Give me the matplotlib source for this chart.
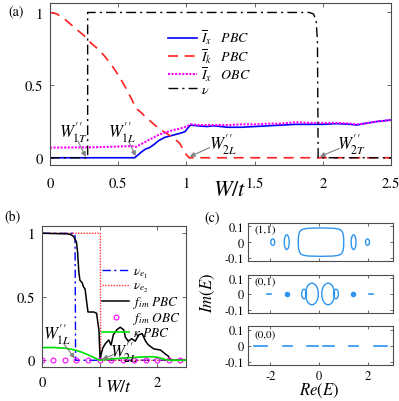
import numpy as np
import matplotlib
matplotlib.use("Agg")
import matplotlib.pyplot as plt
from matplotlib.patches import Ellipse, Polygon

plt.rcParams['font.family'] = ['STIXGeneral', 'DejaVu Serif']
plt.rcParams['mathtext.fontset'] = 'stix'

# ---------------- data: panel (a) ----------------
ik_w = [0, 0.05, 0.1, 0.15, 0.2, 0.25, 0.3, 0.35, 0.4, 0.45, 0.5, 0.55, 0.6, 0.63,
        0.67, 0.7, 0.75, 0.8, 0.85, 0.9, 0.95, 0.98, 1.0, 1.02, 2.5]
ik_pbc = [1.0, 0.99, 0.96, 0.92, 0.88, 0.84, 0.79, 0.75, 0.70, 0.64, 0.57, 0.49, 0.40, 0.34,
          0.31, 0.28, 0.24, 0.20, 0.17, 0.14, 0.10, 0.05, 0.02, 0.0, 0.0]

ix_w = [0, 0.62, 0.64, 0.67, 0.7, 0.73, 0.76, 0.8, 0.84, 0.88, 0.92, 0.96, 0.99, 1.01, 1.03,
        1.08, 1.15, 1.2, 1.3, 1.4, 1.5, 1.6, 1.7, 1.8, 1.9, 2.0, 2.1, 2.2, 2.25, 2.3, 2.4, 2.5]
ix_pbc = [0, 0, 0.015, 0.04, 0.06, 0.07, 0.09, 0.12, 0.14, 0.15, 0.16, 0.17, 0.18, 0.205, 0.225,
          0.22, 0.215, 0.22, 0.21, 0.21, 0.215, 0.22, 0.225, 0.23, 0.23, 0.23, 0.235, 0.23, 0.225,
          0.235, 0.25, 0.26]

ixo_w = [0, 0.3, 0.6, 0.63, 0.66, 0.7, 0.75, 0.8, 0.85, 0.9, 0.95, 1.0, 1.03, 1.1, 1.2, 1.3,
         1.4, 1.5, 1.6, 1.7, 1.8, 1.9, 2.0, 2.1, 2.2, 2.25, 2.3, 2.4, 2.5]
ix_obc = [0.07, 0.072, 0.08, 0.075, 0.09, 0.11, 0.135, 0.16, 0.175, 0.19, 0.2, 0.215, 0.23,
          0.225, 0.225, 0.225, 0.23, 0.23, 0.235, 0.235, 0.245, 0.24, 0.24, 0.24, 0.235, 0.23,
          0.235, 0.25, 0.26]

nu_w = [0, 0.276, 0.276, 1.90, 1.93, 1.95, 1.96, 1.965, 2.5]
nu = [0, 0, 1, 1, 0.99, 0.95, 0.8, 0, 0]

# ---------------- data: panel (b) ----------------
fim_w = [0, 0.45, 0.5, 0.55, 0.58, 0.6, 0.62, 0.64, 0.66, 0.7, 0.72, 0.75, 0.78, 0.8, 0.9,
         0.95, 0.97, 0.99, 1.0, 1.01, 1.03, 1.06, 1.1, 1.16, 1.2, 1.24, 1.3, 1.36, 1.42, 1.45,
         1.5, 1.56, 1.62, 1.68, 1.74, 1.8, 1.85, 1.94, 2.06, 2.14, 2.2, 2.22, 2.5]
fim_pbc = [1.0, 0.995, 0.99, 0.975, 0.95, 0.93, 0.85, 0.7, 0.63, 0.61, 0.58, 0.56, 0.45, 0.38,
           0.38, 0.37, 0.3, 0.24, 0.12, 0.01, 0.05, 0.1, 0.13, 0.16, 0.12, 0.2, 0.24, 0.26,
           0.24, 0.18, 0.15, 0.17, 0.15, 0.2, 0.21, 0.15, 0.12, 0.09, 0.08, 0.05, 0.03, 0.0, 0.0]

ne1_w = [0, 0.575, 0.585, 2.5]
nu_e1 = [1, 1, 0, 0]
ne2_w = [0, 1.015, 1.02, 2.5]
nu_e2 = [1, 1, 0, 0]

fobc_w = [0, 0.2, 0.4, 0.6, 0.8, 1.0, 1.2, 1.4, 1.6, 1.8, 2.0, 2.2, 2.4]
fim_obc = [0, 0, 0, 0, 0, 0, 0, 0, 0, 0, 0, 0, 0]

kappa_w = [0, 0.2, 0.4, 0.5, 0.6, 0.7, 0.8, 0.9, 1.0, 1.1, 1.2, 1.3, 1.4, 1.5, 1.6, 1.7,
           1.8, 1.9, 2.0, 2.1, 2.2, 2.5]
kappa_pbc = [0.10, 0.10, 0.095, 0.088, 0.077, 0.062, 0.043, 0.022, 0.0, 0.005, 0.01, 0.013,
             0.017, 0.02, 0.022, 0.025, 0.027, 0.028, 0.024, 0.012, 0.0, 0.0]

# ---------------- data: panel (c) ----------------
# (1,1): central rounded oval (upper-right quarter, relative to its centre) + small ovals
big_cx = 0.07
big_qx = [0.93, 0.925, 0.91, 0.88, 0.82, 0.7, 0.5, 0.25, 0.0]
big_qy = [0.0, 0.025, 0.045, 0.062, 0.075, 0.083, 0.087, 0.088, 0.089]
c11_ex = [-1.9, -1.33, 1.4, 1.97]
c11_ew = [0.08, 0.1, 0.1, 0.08]
c11_eh = [0.02, 0.046, 0.046, 0.02]
# (0,1)
c01_ex = [-0.3, 0.36, -0.62, 0.68]
c01_ew = [0.26, 0.26, 0.1, 0.1]
c01_eh = [0.068, 0.068, 0.03, 0.03]
c01_dots = [-1.3, 1.38]
c01_dash_a = [-2.14, 2.02]
c01_dash_b = [-1.97, 2.2]
# (0,0)
c00_seg_a = [-2.68, -1.5, -0.52, 0.16, 1.2, 2.24]
c00_seg_b = [-2.14, -1.1, -0.07, 0.61, 1.6, 2.78]

spec_color = '#2d94f0'
spine_col = '0.3'

fig = plt.figure(figsize=(3.99, 4.02), dpi=100)


def style(ax, fs):
    for s in ax.spines.values():
        s.set_color(spine_col)
        s.set_linewidth(0.8)
    ax.tick_params(direction='in', top=True, right=True, color=spine_col,
                   labelsize=fs, length=3, width=0.6)


# ---------------- panel (a) ----------------
axa = fig.add_axes([0.1253, 0.587, 0.855, 0.403])
style(axa, 10.5)
axa.plot(ix_w, ix_pbc, color='#0000ff', lw=1.2, label=r'$\overline{I}_x\quad PBC$')
axa.plot(ik_w, ik_pbc, color='#ff2020', lw=1.2, ls=(0, (6, 4)), label=r'$\overline{I}_k\quad PBC$')
axa.plot(ixo_w, ix_obc, color='#ff00ff', lw=1.5, ls=(0, (1, 0.7)), label=r'$\overline{I}_x\quad OBC$')
axa.plot(nu_w, nu, color='black', lw=1.0, ls=(0, (7, 3, 1.5, 3)), label=r'$\nu$')
axa.set_xlim(0, 2.5)
axa.set_ylim(-0.05, 1.065)
axa.set_xticks([0, 0.5, 1, 1.5, 2, 2.5])
axa.set_xticklabels(['0', '0.5', '1', '1.5', '2', '2.5'])
axa.set_yticks([0, 0.5, 1])
axa.set_yticklabels(['0', '0.5', '1'])
axa.tick_params(axis='x', pad=8)
axa.tick_params(axis='y', pad=5)
axa.set_xlabel(r'$W/t$', fontsize=16)
axa.xaxis.set_label_coords(0.528, -0.095)
axa.legend(loc='upper left', bbox_to_anchor=(0.345, 0.845), frameon=False, fontsize=10,
           handlelength=2.1, handletextpad=0.3, labelspacing=0.0, borderpad=0,
           borderaxespad=0)

arr = dict(arrowstyle='-|>', color='0.5', lw=0.8, mutation_scale=7, shrinkA=0, shrinkB=0)
ann_a = [(r"$W^{\prime\prime}_{1T}$", 0.17, 0.18, 0.205, 0.115, 0.262, 0.006),
         (r"$W^{\prime\prime}_{1L}$", 0.53, 0.18, 0.575, 0.115, 0.628, 0.012),
         (r"$W^{\prime\prime}_{2L}$", 1.27, 0.10, 1.17, 0.07, 1.025, 0.008),
         (r"$W^{\prime\prime}_{2T}$", 2.21, 0.10, 2.12, 0.064, 1.978, 0.008)]
for t, tx, ty, ax0, ay0, ax1, ay1 in ann_a:
    axa.text(tx, ty, t, fontsize=12, ha='center', va='center')
    axa.annotate('', xy=(ax1, ay1), xytext=(ax0, ay0), arrowprops=arr)

fig.text(0.02, 0.972, '(a)', fontsize=10, va='center')

# ---------------- panel (b) ----------------
axb = fig.add_axes([0.105, 0.0846, 0.361, 0.35])
style(axb, 10.5)
axb.plot(ne1_w, nu_e1, color='#0000ff', lw=1.0, ls=(0, (6, 2.5, 1.5, 2.5)), label=r'$\nu_{e_1}$')
axb.plot(ne2_w, nu_e2, color='#ff3030', lw=1.0, ls=(0, (1, 1)), label=r'$\nu_{e_2}$')
axb.plot(fim_w, fim_pbc, color='black', lw=1.1, label=r'$f_{im}\ PBC$')
axb.plot(fobc_w, fim_obc, ls='none', marker='o', mfc='none', mec='#ff00ff', ms=3.5, mew=0.8,
         label=r'$f_{im}\ OBC$')
axb.plot(kappa_w, kappa_pbc, color='#00e000', lw=1.2, label=r'$\kappa\ PBC$')
axb.set_xlim(0, 2.5)
axb.set_ylim(-0.053, 1.055)
axb.set_xticks([0, 1, 2])
axb.set_xticklabels(['0', '1', '2'])
axb.set_yticks([0, 0.5, 1])
axb.set_yticklabels(['0', '0.5', '1'])
axb.tick_params(axis='x', pad=6)
axb.tick_params(axis='y', pad=5)
axb.set_xlabel(r'$W/t$', fontsize=13)
axb.xaxis.set_label_coords(0.53, -0.085)
axb.legend(loc='upper left', bbox_to_anchor=(0.42, 0.72), frameon=False, fontsize=9.5,
           handlelength=2.0, handletextpad=0.3, labelspacing=0.0, borderpad=0,
           borderaxespad=0)
ann_b = [(r"$W^{\prime\prime}_{1L}$", 0.27, 0.21, 0.37, 0.135, 0.57, 0.015),
         (r"$W^{\prime\prime}_{2L}$", 1.43, 0.065, 1.24, 0.045, 1.05, 0.008)]
for t, tx, ty, ax0, ay0, ax1, ay1 in ann_b:
    axb.text(tx, ty, t, fontsize=12, ha='center', va='center')
    axb.annotate('', xy=(ax1, ay1), xytext=(ax0, ay0), arrowprops=arr)
fig.text(0.012, 0.458, '(b)', fontsize=10, va='center')

# ---------------- panel (c) ----------------
cpos = [[0.6223, 0.3475, 0.362, 0.0953],
        [0.6223, 0.2189, 0.362, 0.0945],
        [0.6223, 0.0903, 0.362, 0.0955]]
axs_c = [fig.add_axes(p) for p in cpos]
for i, ax in enumerate(axs_c):
    style(ax, 9)
    ax.set_xlim(-2.9, 3.0)
    ax.set_ylim(-0.12, 0.12)
    ax.set_yticks([-0.1, 0, 0.1])
    ax.set_yticklabels(['-0.1', '0', '0.1'])
    ax.set_xticks([-2, 0, 2])
    ax.tick_params(length=2, pad=3)
    if i < 2:
        ax.set_xticklabels([])
    else:
        ax.set_xticklabels(['-2', '0', '2'])
        ax.tick_params(axis='x', pad=4)

# (1,1)
a = axs_c[0]
qx = np.array(big_qx)
qy = np.array(big_qy)
px = np.concatenate([qx, -qx[::-1], -qx, qx[::-1]]) + big_cx
py = np.concatenate([qy, qy[::-1], -qy, -qy[::-1]])
a.add_patch(Polygon(np.column_stack([px, py]), closed=True, fill=False, ec=spec_color, lw=1.0))
for cx, w, h in zip(c11_ex, c11_ew, c11_eh):
    a.add_patch(Ellipse((cx, 0), 2 * w, 2 * h, fill=False, ec=spec_color, lw=1.0))
a.text(0.045, 0.84, '(1,1)', transform=a.transAxes, fontsize=8, va='center', ha='left')

# (0,1)
a = axs_c[1]
for cx, w, h in zip(c01_ex, c01_ew, c01_eh):
    a.add_patch(Ellipse((cx, 0), 2 * w, 2 * h, fill=False, ec=spec_color, lw=1.0))
a.plot(c01_dots, [0] * len(c01_dots), ls='none', marker='o', color=spec_color, ms=3)
for x0, x1 in zip(c01_dash_a, c01_dash_b):
    a.plot([x0, x1], [0, 0], color=spec_color, lw=1.2)
a.text(0.045, 0.84, '(0,1)', transform=a.transAxes, fontsize=8, va='center', ha='left')
a.set_ylabel(r'$Im(E)$', fontsize=12)
a.yaxis.set_label_coords(-0.22, 0.55)

# (0,0)
a = axs_c[2]
for x0, x1 in zip(c00_seg_a, c00_seg_b):
    a.plot([x0, x1], [0, 0], color=spec_color, lw=1.2)
a.text(0.045, 0.8, '(0,0)', transform=a.transAxes, fontsize=8, va='center', ha='left')
a.set_xlabel(r'$Re(E)$', fontsize=12)
a.xaxis.set_label_coords(0.49, -0.43)
fig.text(0.513, 0.458, '(c)', fontsize=10, va='center')

fig.savefig('out.png', dpi=100)
